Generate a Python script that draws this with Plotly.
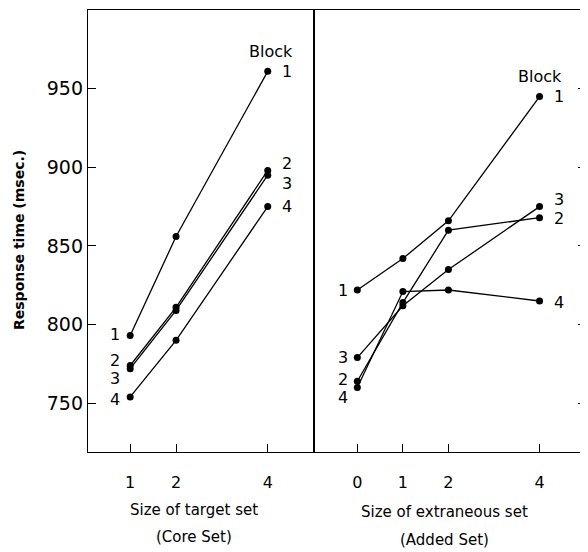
import plotly.graph_objects as go

blocks = ["1", "2", "3", "4"]
core_x = [1, 2, 4]
core_rt = {
    "1": [793, 856, 961],
    "2": [774, 811, 898],
    "3": [772, 809, 895],
    "4": [754, 790, 875],
}
added_x = [0, 1, 2, 4]
added_rt = {
    "1": [822, 842, 866, 945],
    "2": [764, 814, 860, 868],
    "3": [779, 812, 835, 875],
    "4": [760, 821, 822, 815],
}
y_ticks = [750, 800, 850, 900, 950]

FONT = "DejaVu Sans"
fig = go.Figure()

for b in blocks:
    fig.add_trace(go.Scatter(x=core_x, y=core_rt[b], mode="lines+markers",
                             line=dict(color="black", width=1.3),
                             marker=dict(color="black", size=7),
                             xaxis="x", yaxis="y", showlegend=False))
    fig.add_trace(go.Scatter(x=added_x, y=added_rt[b], mode="lines+markers",
                             line=dict(color="black", width=1.3),
                             marker=dict(color="black", size=7),
                             xaxis="x2", yaxis="y2", showlegend=False))

# label offsets (pixels): (left-end shift, right-end shift)
core_off = {"1": (1, 0), "2": (5, 7), "3": (-10, -8), "4": (-3, 0)}
added_off = {"1": (-1, 0), "2": (2, -1), "3": (0, 7), "4": (-10, -1)}

ann = []
lab_font = dict(family=FONT, size=16, color="black")
for b in blocks:
    ann.append(dict(x=core_x[0], y=core_rt[b][0], xref="x", yref="y", text=b,
                    showarrow=False, xshift=-15, yshift=core_off[b][0], font=lab_font))
    ann.append(dict(x=core_x[-1], y=core_rt[b][-1], xref="x", yref="y", text=b,
                    showarrow=False, xshift=19, yshift=core_off[b][1], font=lab_font))
    ann.append(dict(x=added_x[0], y=added_rt[b][0], xref="x2", yref="y2", text=b,
                    showarrow=False, xshift=-14, yshift=added_off[b][0], font=lab_font))
    ann.append(dict(x=added_x[-1], y=added_rt[b][-1], xref="x2", yref="y2", text=b,
                    showarrow=False, xshift=19, yshift=added_off[b][1], font=lab_font))

ann.append(dict(x=core_x[-1], y=core_rt["1"][-1], xref="x", yref="y", text="Block",
                showarrow=False, xshift=3, yshift=20, font=lab_font))
ann.append(dict(x=added_x[-1], y=added_rt["1"][-1], xref="x2", yref="y2", text="Block",
                showarrow=False, xshift=0, yshift=20, font=lab_font))

title_font = dict(family=FONT, size=15, color="black")
ann += [
    dict(x=0.213, y=-0.131, xref="paper", yref="paper", text="Size of target set",
         showarrow=False, xanchor="center", yanchor="middle", font=title_font),
    dict(x=0.213, y=-0.192, xref="paper", yref="paper", text="(Core Set)",
         showarrow=False, xanchor="center", yanchor="middle", font=title_font),
    dict(x=0.715, y=-0.136, xref="paper", yref="paper", text="Size of extraneous set",
         showarrow=False, xanchor="center", yanchor="middle", font=title_font),
    dict(x=0.715, y=-0.199, xref="paper", yref="paper", text="(Added Set)",
         showarrow=False, xanchor="center", yanchor="middle", font=title_font),
    dict(x=0, y=0.5, xref="paper", yref="paper", text="<b>Response time (msec.)</b>",
         textangle=-90, showarrow=False, xanchor="center", yanchor="middle",
         xshift=-69, yshift=-9, font=dict(family=FONT, size=14, color="black")),
]

axis_common = dict(showgrid=False, zeroline=False, showline=True, linecolor="black",
                   linewidth=1.3, mirror=True, ticks="inside", tickcolor="black",
                   ticklen=8, tickwidth=1.2)

fig.update_layout(
    width=580, height=544,
    margin=dict(l=80, r=2, t=2, b=100, autoexpand=False),
    paper_bgcolor="white", plot_bgcolor="white",
    font=dict(family=FONT, color="black"),
    xaxis=dict(domain=[0, 0.453], range=[0.08, 5.0], tickvals=core_x,
               ticktext=[str(v) for v in core_x], ticklabelstandoff=16,
               tickfont=dict(family=FONT, size=16), **axis_common),
    xaxis2=dict(domain=[0.453, 1], range=[-0.96, 5.02], tickvals=added_x,
                ticktext=[str(v) for v in added_x], ticklabelstandoff=16,
                tickfont=dict(family=FONT, size=16), **axis_common),
    yaxis=dict(range=[719, 1000], tickvals=y_ticks, anchor="x",
               tickfont=dict(family=FONT, size=19), **axis_common),
    yaxis2=dict(range=[719, 1000], tickvals=y_ticks, anchor="x2", side="right",
                showticklabels=False, **axis_common),
    annotations=ann,
)

fig.write_html("out.html")
